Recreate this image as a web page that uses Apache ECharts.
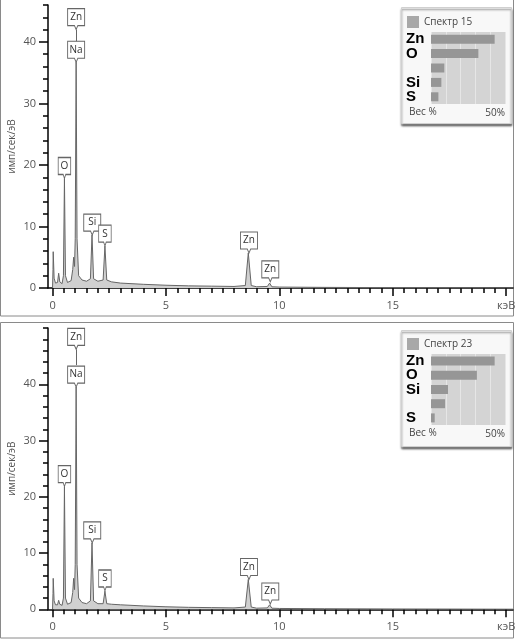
<!DOCTYPE html>
<html><head><meta charset="utf-8">
<script src="https://cdn.jsdelivr.net/npm/echarts@6/dist/echarts.min.js"></script>
<style>html,body{margin:0;padding:0;background:#fff}#c{width:520px;height:644px}</style>
</head><body><div id="c"></div>
<script>
// ---- Spectrum 15 (top) ----
const spec15Kev = [0, 0.02, 0.03, 0.07, 0.13, 0.22, 0.27, 0.32, 0.42, 0.48, 0.525, 0.57, 0.66, 0.82, 0.89, 0.93, 0.97, 1.0, 1.04, 1.08, 1.15, 1.3, 1.5, 1.67, 1.74, 1.81, 2.0, 2.23, 2.31, 2.39, 2.6, 3.0, 4.0, 5.0, 6.0, 7.0, 8.0, 8.5, 8.63, 8.76, 9.0, 9.47, 9.57, 9.67, 10, 12, 15, 20.3];
const spec15Cps = [0, 3.0, 5.9, 1.6, 0.8, 0.9, 2.4, 1.0, 0.7, 2.0, 17.8, 2.0, 0.9, 1.2, 3.0, 5.0, 3.5, 8.0, 36.7, 8.0, 2.0, 1.3, 1.1, 1.5, 8.6, 1.5, 1.1, 1.3, 6.8, 1.3, 1.0, 0.8, 0.6, 0.45, 0.35, 0.3, 0.25, 0.4, 5.7, 0.4, 0.2, 0.25, 0.8, 0.2, 0.15, 0.1, 0.06, 0.02];
// ---- Spectrum 23 (bottom) ----
const spec23Kev = [0, 0.02, 0.03, 0.07, 0.13, 0.22, 0.27, 0.32, 0.42, 0.48, 0.525, 0.57, 0.66, 0.82, 0.89, 0.93, 0.97, 1.0, 1.04, 1.08, 1.15, 1.3, 1.5, 1.67, 1.74, 1.81, 2.0, 2.23, 2.31, 2.39, 2.6, 3.0, 4.0, 5.0, 6.0, 7.0, 8.0, 8.5, 8.63, 8.76, 9.0, 9.47, 9.57, 9.67, 10, 12, 15, 20.3];
const spec23Cps = [0, 2.8, 5.5, 1.5, 0.8, 0.8, 1.6, 0.9, 0.7, 2.0, 21.8, 2.0, 0.9, 1.2, 3.0, 5.5, 3.5, 8.0, 39.5, 8.0, 2.0, 1.2, 1.0, 1.5, 11.8, 1.5, 1.0, 1.0, 3.2, 1.0, 0.9, 0.8, 0.6, 0.45, 0.35, 0.3, 0.25, 0.4, 5.3, 0.4, 0.2, 0.25, 0.8, 0.2, 0.15, 0.1, 0.06, 0.02];

// ---- Peak labels ----
const lab15Names = ['Zn', 'Na', 'O', 'Si', 'S', 'Zn', 'Zn'];
const lab15Kev = [1.04, 1.04, 0.525, 1.75, 2.31, 8.66, 9.6];
const lab15Tip = [42.0, 36.7, 17.8, 8.6, 6.8, 5.7, 1.0];
const lab15Link = [40.0, 42.0];
const lab23Names = ['Zn', 'Na', 'O', 'Si', 'S', 'Zn', 'Zn'];
const lab23Kev = [1.04, 1.04, 0.525, 1.75, 2.31, 8.66, 9.6];
const lab23Tip = [46.2, 39.5, 21.8, 11.8, 3.25, 5.3, 0.95];
const lab23Link = [43.4, 46.2];

// ---- Axes ----
const xLabelValues = [0, 5, 10, 15, 20];
const xTickLabels = ['0', '5', '10', '15', 'кэВ'];
const yLabelValues = [0, 10, 20, 30, 40];
const yName = 'имп/сек/эВ';
const yMax15 = 46;
const yMax23 = 50;

// ---- Insets (weight %) ----
const inset15Name = 'Спектр 15';
const el15 = ['Zn', 'O', '', 'Si', 'S'];
const wt15 = [43, 32, 9, 7, 5];
const inset23Name = 'Спектр 23';
const el23 = ['Zn', 'O', 'Si', '', 'S'];
const wt23 = [43, 31, 11.5, 9.5, 2.5];
const insetTickLabel = '50%';
const insetAxisLabel = 'Вес %';

const FONT = 'Open Sans, DejaVu Sans, sans-serif';
const halfTicks = Array.from({length: 41}, (_, i) => i * 0.5);

function specX(g) {
  return [
    {type: 'value', gridIndex: g, position: 'bottom', min: -0.2, max: 20.3,
     axisLine: {show: true, onZero: false, lineStyle: {color: '#000', width: 1.5}},
     axisTick: {show: true, customValues: halfTicks, length: 5, lineStyle: {color: '#000', width: 1.5}},
     axisLabel: {show: true, customValues: xLabelValues, margin: 12, color: '#555', fontSize: 11, fontFamily: FONT,
       formatter: v => xTickLabels[xLabelValues.indexOf(v)] ?? ''},
     splitLine: {show: false}},
    {type: 'value', gridIndex: g, position: 'bottom', offset: 0, min: -0.2, max: 20.3,
     axisLine: {show: false, onZero: false},
     axisTick: {show: true, customValues: xLabelValues, length: 8, lineStyle: {color: '#000', width: 1.5}},
     axisLabel: {show: false}, splitLine: {show: false}}
  ];
}
function specY(g, ymax) {
  return [
    {type: 'value', gridIndex: g, position: 'left', min: 0, max: ymax, interval: 2,
     axisLine: {show: true, onZero: false, lineStyle: {color: '#000', width: 1.5}},
     axisTick: {show: true, length: 5, lineStyle: {color: '#000', width: 1.5}},
     axisLabel: {show: true, customValues: yLabelValues, margin: 12, color: '#555', fontSize: 11, fontFamily: FONT},
     splitLine: {show: false},
     name: yName, nameLocation: 'middle', nameGap: 31, nameRotate: 90, nameMoveOverlap: false,
     nameTextStyle: {color: '#555', fontSize: 10, fontFamily: FONT}},
    {type: 'value', gridIndex: g, position: 'left', offset: 0, min: 0, max: ymax,
     axisLine: {show: false, onZero: false},
     axisTick: {show: true, customValues: yLabelValues, length: 9, lineStyle: {color: '#000', width: 1.5}},
     axisLabel: {show: false}, splitLine: {show: false}}
  ];
}
function insetX(g) {
  return {type: 'value', gridIndex: g, min: 0, max: 50, interval: 10,
    axisLine: {show: false}, axisTick: {show: false},
    splitLine: {show: true, lineStyle: {color: '#e6e6e6', width: 1}},
    axisLabel: {show: true, customValues: [50], formatter: () => insetTickLabel, align: 'right', margin: 4,
      fontSize: 10, color: '#444', fontFamily: FONT}};
}
function insetY(g, cats) {
  return {type: 'category', gridIndex: g, data: cats, inverse: true,
    axisLine: {show: false}, axisTick: {show: false},
    axisLabel: {show: true, interval: 0, align: 'left', margin: 25, fontWeight: 'bold', fontSize: 15,
      color: '#000', fontFamily: 'Liberation Sans, Arial, sans-serif'}};
}
const BOX = 'path://M0,0H20V17H12L10,21L8,17H0Z';
function spectrumSeries(kev, cps, names, lkev, ltip, link, xi, yi) {
  return {
    type: 'line', xAxisIndex: xi, yAxisIndex: yi, symbol: 'none', silent: true,
    data: kev.map((k, i) => [k, cps[i]]),
    lineStyle: {color: '#666', width: 1},
    areaStyle: {color: '#d0d0d0', opacity: 1},
    markLine: {silent: true, symbol: 'none', label: {show: false},
      lineStyle: {color: '#666', width: 1, type: 'solid'},
      data: [[{coord: [lkev[0], link[0]]}, {coord: [lkev[0], link[1]]}]]},
    markPoint: {silent: true, symbol: BOX, symbolOffset: [0, -10.5],
      itemStyle: {color: '#fff', borderColor: '#666', borderWidth: 1},
      label: {show: true, position: 'inside', offset: [0, -2], color: '#333', fontSize: 10, fontFamily: FONT,
        formatter: p => p.name},
      data: names.map((n, i) => ({name: n, coord: [lkev[i], ltip[i]], symbolSize: [n.length > 1 ? 17 : 12.5, 21]}))}
  };
}

const chart = echarts.init(document.getElementById('c'), null, {renderer: 'canvas'});
const option = {
  animation: false,
  backgroundColor: '#fff',
  grid: [
    {left: 48, top: 5, width: 465, height: 283, outerBoundsMode: 'none', containLabel: false},
    {left: 48, top: 328, width: 465, height: 281.3, outerBoundsMode: 'none', containLabel: false},
    {left: 431, top: 32, width: 74, height: 72, show: true, backgroundColor: '#d4d4d4', borderWidth: 0, outerBoundsMode: 'none', containLabel: false},
    {left: 431, top: 354, width: 74, height: 71, show: true, backgroundColor: '#d4d4d4', borderWidth: 0, outerBoundsMode: 'none', containLabel: false}
  ],
  xAxis: [...specX(0), ...specX(1), insetX(2), insetX(3)],
  yAxis: [...specY(0, yMax15), ...specY(1, yMax23), insetY(2, el15), insetY(3, el23)],
  legend: [
    {data: [inset15Name], left: 407, top: 16, itemWidth: 12, itemHeight: 12, icon: 'rect', padding: 0,
     selectedMode: false, itemStyle: {color: '#a8a8a8'}, textStyle: {fontSize: 10, color: '#444', fontFamily: FONT}},
    {data: [inset23Name], left: 407, top: 338, itemWidth: 12, itemHeight: 12, icon: 'rect', padding: 0,
     selectedMode: false, itemStyle: {color: '#a8a8a8'}, textStyle: {fontSize: 10, color: '#444', fontFamily: FONT}}
  ],
  series: [
    spectrumSeries(spec15Kev, spec15Cps, lab15Names, lab15Kev, lab15Tip, lab15Link, 0, 0),
    spectrumSeries(spec23Kev, spec23Cps, lab23Names, lab23Kev, lab23Tip, lab23Link, 2, 2),
    {type: 'bar', name: inset15Name, xAxisIndex: 4, yAxisIndex: 4, data: wt15, barWidth: 9,
     itemStyle: {color: '#969696'}, silent: true},
    {type: 'bar', name: inset23Name, xAxisIndex: 5, yAxisIndex: 5, data: wt23, barWidth: 9,
     itemStyle: {color: '#969696'}, silent: true}
  ],
  graphic: [
    {type: 'rect', z: -1, shape: {x: 0.5, y: -2, width: 513, height: 318}, style: {fill: 'none', stroke: '#8a8a8a', lineWidth: 1}},
    {type: 'rect', z: -1, shape: {x: 0.5, y: 322.5, width: 513, height: 315.5}, style: {fill: 'none', stroke: '#8a8a8a', lineWidth: 1}},
    {type: 'rect', z: -1, shape: {x: 401.5, y: 7.5, width: 110, height: 116},
     style: {fill: '#f8f8f8', stroke: '#d0d0d0', lineWidth: 1, shadowColor: 'rgba(0,0,0,0.5)', shadowBlur: 2, shadowOffsetY: 2}},
    {type: 'rect', z: -1, shape: {x: 401.5, y: 330.5, width: 110, height: 116},
     style: {fill: '#f8f8f8', stroke: '#d0d0d0', lineWidth: 1, shadowColor: 'rgba(0,0,0,0.5)', shadowBlur: 2, shadowOffsetY: 2}},
    {type: 'text', left: 409, top: 107, style: {text: insetAxisLabel, fontSize: 10, fill: '#444', fontFamily: FONT}},
    {type: 'text', left: 409, top: 428, style: {text: insetAxisLabel, fontSize: 10, fill: '#444', fontFamily: FONT}}
  ]
};
chart.setOption(option);
</script>
</body></html>
